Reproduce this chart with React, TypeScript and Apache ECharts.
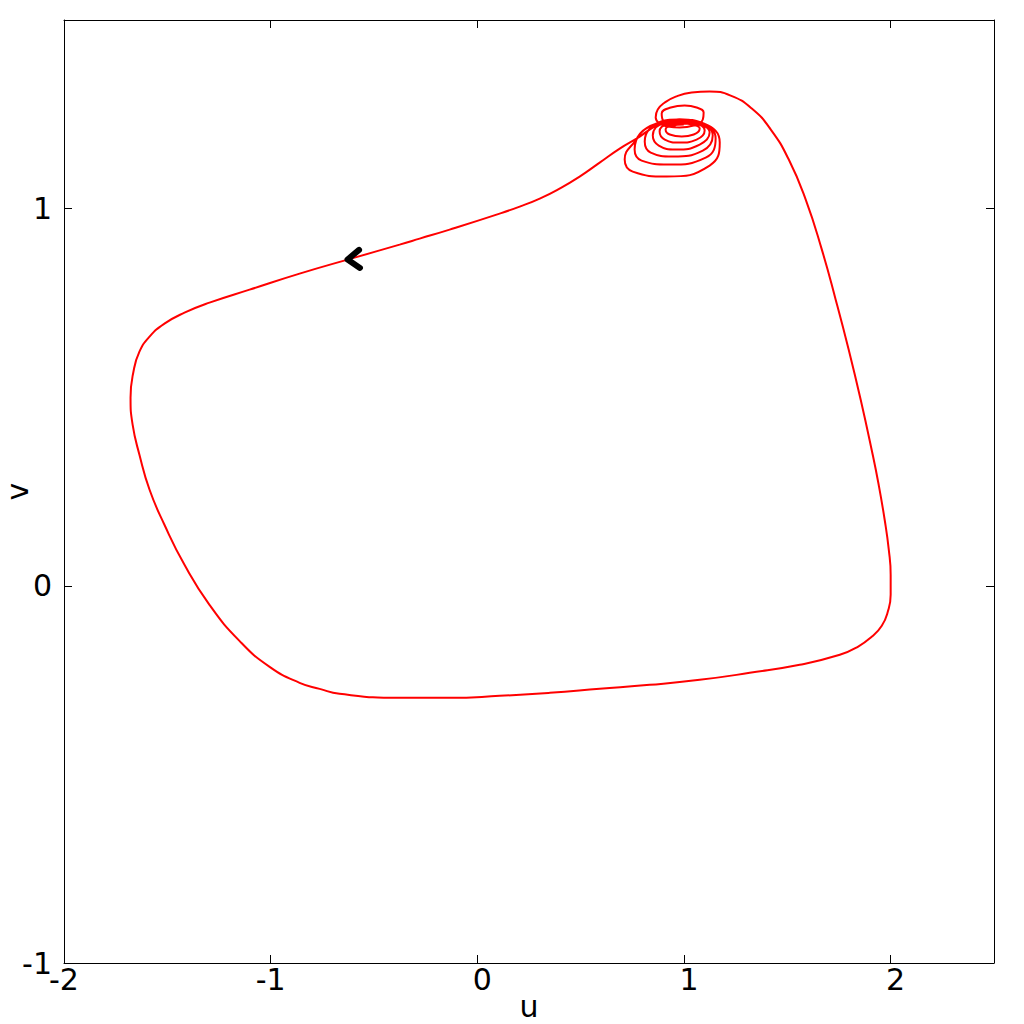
import React, { useEffect, useRef } from "react";
import * as echarts from "echarts";

// Spiral near the focus (u, v)
const spiralU = [
  0.999, 0.94, 0.911, 0.931, 0.989, 1.047, 1.076, 1.042,
  0.994, 0.921, 0.882, 0.907, 0.979, 1.061, 1.1, 1.052,
  0.989, 0.907, 0.849, 0.878, 0.96, 1.076, 1.124, 1.061,
  0.984, 0.887, 0.81, 0.839, 0.945, 1.091, 1.139, 1.071,
  0.979, 0.868, 0.761, 0.795, 0.926, 1.105, 1.153, 1.081,
  0.974, 0.834, 0.766, 0.713, 0.752, 0.916, 1.124, 1.173, 1.095,
  0.979, 0.892, 0.834, 0.786,
];
const spiralV = [
  1.2228, 1.2202, 1.2096, 1.1963, 1.191, 1.1963, 1.2122, 1.2228,
  1.2255, 1.2228, 1.2042, 1.183, 1.1751, 1.183, 1.2069, 1.2255,
  1.2281, 1.2255, 1.1936, 1.1671, 1.1565, 1.1698, 1.2016, 1.2255,
  1.2308, 1.2255, 1.1777, 1.1485, 1.1379, 1.1538, 1.1936, 1.2281,
  1.2334, 1.2255, 1.1565, 1.1273, 1.1167, 1.1353, 1.1857, 1.2281,
  1.2361, 1.2175, 1.1804, 1.13, 1.0981, 1.0849, 1.1141, 1.1751, 1.2255,
  1.2361, 1.2255, 1.2096, 1.191,
];

// Large cycle
const cycleU = [
  0.689, 0.592, 0.495, 0.398, 0.302, 0.205, 0.108, -0.134, -0.279, -0.376,
  -0.594, -0.86, -1.102, -1.296, -1.417, -1.514, -1.586, -1.635, -1.664, -1.678,
  -1.668, -1.635, -1.586, -1.514, -1.417, -1.296, -1.151, -1.005, -0.86,
  -0.763, -0.667, -0.376, -0.134, 0.108, 0.35, 0.592, 0.834, 1.076, 1.318, 1.56,
  1.754, 1.841, 1.908, 1.957, 1.986, 2.0, 2.0, 1.991, 1.971, 1.942, 1.908, 1.855,
  1.797, 1.734, 1.667, 1.589, 1.507, 1.42, 1.328, 1.226, 1.124,
  1.037, 0.96, 0.907, 0.873, 0.863, 0.882, 0.921,
];
const cycleV = [
  1.1592, 1.122, 1.0849, 1.0531, 1.0265, 1.0053, 0.9867, 0.9443, 0.9204, 0.9045,
  0.87, 0.8276, 0.7851, 0.7507, 0.7241, 0.695, 0.6605, 0.6207, 0.5676, 0.4987,
  0.4271, 0.3475, 0.2546, 0.1618, 0.0557, -0.0504, -0.1459, -0.2149, -0.2573,
  -0.2732, -0.2865, -0.2971, -0.2971, -0.2918, -0.2838, -0.2732, -0.2626, -0.2493, -0.2308, -0.2095,
  -0.183, -0.1618, -0.1353, -0.1061, -0.069, -0.0239, 0.0292, 0.0955, 0.1751, 0.2679, 0.3607, 0.4934,
  0.626, 0.7586, 0.8912, 1.0239, 1.13, 1.2096, 1.2653, 1.2997, 1.3103,
  1.3077, 1.297, 1.2812, 1.2626, 1.2414, 1.2255, 1.2175,
];

// Small loop above the focus
const capU = [0.979, 1.047, 1.091, 1.095, 1.061, 1.003, 0.936, 0.892, 0.902, 0.96];
const capV = [1.2149, 1.2202, 1.2361, 1.2546, 1.2679, 1.2732, 1.2679, 1.252, 1.2308, 1.2202];

const arrowPoint = [-0.628, 0.865];

const xMin = -2;
const xMax = 2.5;
const yMin = -1;
const yMax = 1.5;
const tickStep = 1;

const zip = (us: number[], vs: number[]) => us.map((u, i) => [u, vs[i]]);

export default function App() {
  const ref = useRef<HTMLDivElement>(null);
  useEffect(() => {
    if (!ref.current) return;
    const chart = echarts.init(ref.current, undefined, { renderer: "svg" });
    const font = "DejaVu Sans";
    const trajectory = [...zip(spiralU, spiralV), ...zip(cycleU, cycleV), ...zip(capU, capV)];
    const baseAxis = {
      type: "value" as const,
      axisLine: { show: true, onZero: false, lineStyle: { color: "#000", width: 1 } },
      axisTick: { show: true, inside: true, length: 8, lineStyle: { color: "#000", width: 1 } },
      splitLine: { show: false },
    };
    chart.setOption({
      animation: false,
      backgroundColor: "#fff",
      grid: { left: 64, right: 30, top: 20, bottom: 61, containLabel: false, outerBoundsMode: "none" },
      xAxis: [
        {
          ...baseAxis,
          position: "bottom",
          min: xMin,
          max: xMax,
          interval: tickStep,
          name: "u",
          nameLocation: "middle",
          nameGap: 28,
          nameMoveOverlap: false,
          nameTextStyle: { fontFamily: font, fontSize: 30, color: "#000" },
          axisLabel: {
            showMaxLabel: false,
            margin: 1,
            color: "#000",
            fontFamily: font,
            fontSize: 30,
            formatter: (v: number) => (v < 0 ? `{n|${v}}` : `{p|${v}}`),
            rich: {
              n: { fontFamily: font, fontSize: 30, color: "#000" },
              p: { fontFamily: font, fontSize: 30, color: "#000", padding: [0, 0, 0, 10] },
            },
          },
        },
        {
          ...baseAxis,
          position: "top",
          min: xMin,
          max: xMax,
          interval: tickStep,
          axisLabel: { show: false },
        },
      ],
      yAxis: [
        {
          ...baseAxis,
          position: "left",
          min: yMin,
          max: yMax,
          interval: tickStep,
          name: "v",
          nameLocation: "middle",
          nameGap: 32,
          nameMoveOverlap: false,
          nameTextStyle: { fontFamily: font, fontSize: 30, color: "#000" },
          axisLabel: {
            showMaxLabel: false,
            margin: 12,
            color: "#000",
            fontFamily: font,
            fontSize: 30,
          },
        },
        {
          ...baseAxis,
          position: "right",
          min: yMin,
          max: yMax,
          interval: tickStep,
          axisLabel: { show: false },
        },
      ],
      series: [
        {
          type: "line",
          data: trajectory,
          symbol: "none",
          smooth: 0.5,
          lineStyle: { color: "#ff0000", width: 2 },
          clip: true,
        },
        {
          type: "custom",
          data: [arrowPoint],
          z: 10,
          renderItem: (_params: any, api: any) => {
            const p = api.coord([api.value(0), api.value(1)]);
            return {
              type: "polyline",
              shape: {
                points: [
                  [p[0] + 11.5, p[1] - 9.6],
                  [p[0], p[1]],
                  [p[0] + 12.4, p[1] + 8.4],
                ],
              },
              style: { stroke: "#000", lineWidth: 6, fill: "none", lineCap: "round", lineJoin: "round" },
            };
          },
        },
      ],
    });
    return () => chart.dispose();
  }, []);
  return <div ref={ref} style={{ position: "absolute", left: 0, top: 0, width: 1024, height: 1024 }} />;
}
